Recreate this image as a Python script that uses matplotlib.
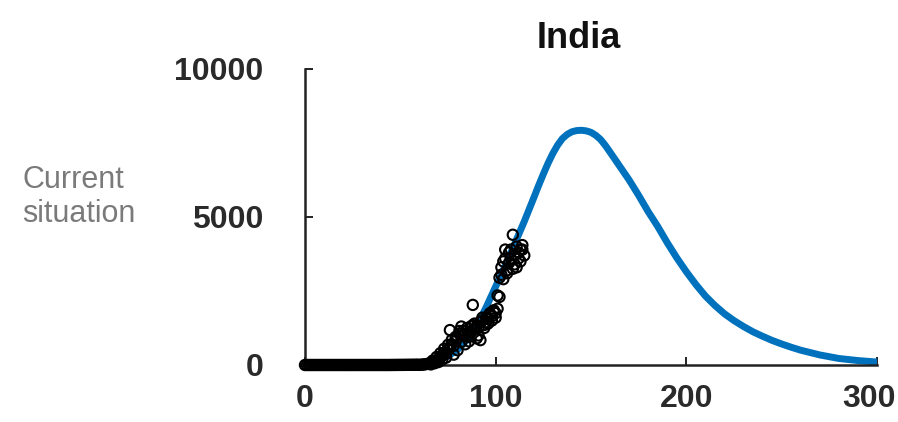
import matplotlib.pyplot as plt
from matplotlib.transforms import ScaledTranslation

# model curve (blue)
model_days = [0, 20, 40, 50, 60, 65, 70, 75, 80, 85, 90, 95, 100, 105, 110, 115,
              117.5, 120, 122.5, 125, 127.5, 130, 132.5, 135, 137.5, 140, 142.5, 145,
              147.5, 150, 152.5, 155, 157.5, 160, 165, 170, 175, 180, 185, 190, 195,
              200, 205, 210, 215, 220, 225, 230, 235, 240, 245, 250, 255, 260, 270,
              280, 290, 300]
model_vals = [0, 0, 2, 8, 40, 80, 160, 300, 520, 850, 1300, 1950, 2650, 3350, 4100,
              4850, 5250, 5650, 6060, 6450, 6820, 7150, 7430, 7650, 7790, 7880, 7920,
              7930, 7910, 7860, 7760, 7620, 7420, 7190, 6720, 6250, 5730, 5180, 4680,
              4130, 3620, 3150, 2720, 2330, 2010, 1730, 1500, 1300, 1120, 970, 830, 710,
              600, 500, 340, 220, 150, 100]

# observed points (open circles)
obs_days = list(range(0, 116))
obs_vals = [0, 0, 0, 0, 0, 0, 0, 0, 0, 0,
            0, 0, 0, 0, 0, 0, 0, 0, 0, 0,
            0, 0, 0, 0, 0, 0, 0, 0, 0, 0,
            0, 0, 0, 0, 0, 0, 0, 0, 0, 0,
            0, 0, 0, 0, 0, 1, 1, 2, 2, 3,
            3, 4, 4, 5, 5, 6, 6, 7, 8, 9,
            5, 10, 15, 25, 35, 50, 70, 90, 110, 150,
            190, 260, 320, 420, 380, 520, 600, 700, 650, 820,
            900, 1150, 780, 1000, 1050, 1250, 950, 1100, 1350, 1200,
            1300, 1000, 1450, 1500, 1350, 1600, 1550, 1750, 1650, 1800,
            1750, 2350, 2950, 3300, 3500, 3900, 3100, 3450, 3600, 4400,
            3700, 3300, 3800, 3900, 4050, 3700]
obs2_days = [66, 68, 70, 72, 74, 76, 78, 80, 82, 84, 86, 88, 90, 92, 94, 96, 98,
             100, 102, 104, 106, 108, 110, 112, 114]
obs2_vals = [20, 60, 100, 180, 250, 1180, 350, 500, 1300, 700, 800, 2030, 900, 840,
             1250, 1400, 1500, 1600, 2300, 2900, 3200, 3900, 3400, 3600, 3900]
obs3_days = [67, 69, 71, 73, 75, 77, 79, 81, 83, 85, 87, 89, 91, 93, 95, 97, 99,
             101, 103, 105, 107, 109, 111, 113]
obs3_vals = [150, 270, 400, 550, 680, 850, 950, 1050, 1150, 1000, 1300, 1400, 1250,
             1600, 1450, 1700, 1850, 1900, 3050, 3600, 3800, 3250, 4000, 3500]

plt.rcParams["font.family"] = "Liberation Sans"

fig = plt.figure(figsize=(8.98, 4.22), dpi=100)
ax = fig.add_axes([305 / 898, 1 - 365 / 422, (877 - 305) / 898, (365 - 69) / 422])

ax.plot(model_days, model_vals, color="#0072BD", lw=5, solid_capstyle="butt",
        solid_joinstyle="round", zorder=2)
for d, v in [(obs_days, obs_vals), (obs2_days, obs2_vals), (obs3_days, obs3_vals)]:
    ax.scatter(d, v, s=55, facecolors="none", edgecolors="black",
               linewidths=1.5, clip_on=False, zorder=3)

ax.set_xlim(0, 300)
ax.set_ylim(0, 10000)
ax.set_xticks([0, 100, 200, 300])
ax.set_yticks([0, 5000, 10000])
for s in ["top", "right"]:
    ax.spines[s].set_visible(False)
for s in ["left", "bottom"]:
    ax.spines[s].set_linewidth(1.8)
    ax.spines[s].set_color("#222222")
ax.tick_params(direction="in", length=6, width=1.4, colors="#222222")
ax.tick_params(axis="x", pad=14)
ax.tick_params(axis="y", pad=30)
for lab in ax.get_xticklabels() + ax.get_yticklabels():
    lab.set_fontsize(23)
    lab.set_fontweight("bold")
    lab.set_color("#2a2a2a")
# last x label sits a bit left of its tick so it fits in the figure
last = ax.get_xticklabels()[-1]
last.set_transform(last.get_transform() + ScaledTranslation(-8 / 100, 0, fig.dpi_scale_trans))

fig.text(579 / 898, 1 - 48 / 422, "India", fontsize=26, fontweight="bold",
         ha="center", va="baseline", color="#111111")
fig.text(22 / 898, 1 - 197 / 422, "Current\nsituation", fontsize=22,
         ha="left", va="center", color="#7a7a7a", linespacing=1.2)

fig.savefig("out.png", dpi=100)
